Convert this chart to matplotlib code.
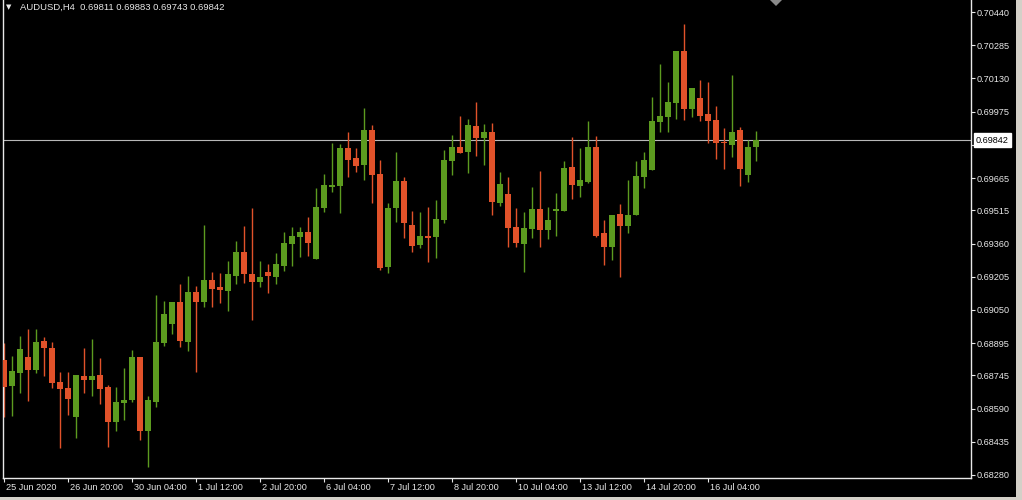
import matplotlib
matplotlib.use("Agg")
import matplotlib.pyplot as plt
import matplotlib.transforms as mtransforms
from matplotlib.patches import Rectangle, Polygon

symbol = "AUDUSD,H4"

# H4 candles
opens = [
    0.68817, 0.68695, 0.68756, 0.68831, 0.68770, 0.68905, 0.68873, 0.68714,
    0.68686, 0.68551, 0.68742, 0.68723, 0.68747, 0.68691, 0.68527, 0.68616,
    0.68630, 0.68831, 0.68485, 0.68621, 0.68896, 0.68985, 0.69087, 0.68901,
    0.69134, 0.69087, 0.69190, 0.69157, 0.69138, 0.69208, 0.69320, 0.69218,
    0.69180, 0.69227, 0.69204, 0.69255, 0.69358, 0.69390, 0.69414, 0.69288,
    0.69526, 0.69624, 0.69628, 0.69806, 0.69759, 0.69726, 0.69890, 0.69684,
    0.69250, 0.69526, 0.69652, 0.69446, 0.69353, 0.69395, 0.69390, 0.69470,
    0.69745, 0.69810, 0.69787, 0.69908, 0.69852, 0.69880, 0.69549, 0.69591,
    0.69437, 0.69358, 0.69428, 0.69521, 0.69423, 0.69512, 0.69512, 0.69717,
    0.69628, 0.69647, 0.69810, 0.69409, 0.69344, 0.69498, 0.69442, 0.69493,
    0.69670, 0.69703, 0.69927, 0.69950, 0.70016, 0.70258, 0.69988, 0.70039,
    0.69964, 0.69936, 0.69834, 0.69820, 0.69890, 0.69680, 0.69811,
]
highs = [
    0.68896, 0.68835, 0.68929, 0.68961, 0.68961, 0.68924, 0.68901, 0.68761,
    0.68761, 0.68747, 0.68873, 0.68915, 0.68826, 0.68700, 0.68691, 0.68779,
    0.68863, 0.68831, 0.68649, 0.69120, 0.69092, 0.69087, 0.69171, 0.69208,
    0.69162, 0.69446, 0.69227, 0.69222, 0.69278, 0.69372, 0.69442, 0.69526,
    0.69278, 0.69264, 0.69316, 0.69414, 0.69437, 0.69437, 0.69484, 0.69619,
    0.69684, 0.69829, 0.69824, 0.69880, 0.69806, 0.69992, 0.69913, 0.69750,
    0.69549, 0.69787, 0.69670, 0.69512, 0.69507, 0.69530, 0.69563, 0.69796,
    0.69866, 0.69955, 0.69941, 0.70020, 0.69918, 0.69922, 0.69694, 0.69670,
    0.69526, 0.69507, 0.69624, 0.69698, 0.69530, 0.69596, 0.69745, 0.69857,
    0.69806, 0.69932, 0.69862, 0.69470, 0.69493, 0.69544, 0.69656, 0.69745,
    0.69787, 0.70043, 0.70197, 0.70113, 0.70258, 0.70384, 0.70085, 0.70123,
    0.70113, 0.70002, 0.69899, 0.70146, 0.69904, 0.69843, 0.69883,
]
lows = [
    0.68551, 0.68555, 0.68663, 0.68625, 0.68756, 0.68742, 0.68686, 0.68406,
    0.68560, 0.68453, 0.68663, 0.68649, 0.68611, 0.68411, 0.68485, 0.68537,
    0.68621, 0.68443, 0.68317, 0.68597, 0.68882, 0.68938, 0.68878, 0.68858,
    0.68761, 0.69064, 0.69064, 0.69083, 0.69045, 0.69171, 0.69176, 0.69003,
    0.69157, 0.69129, 0.69171, 0.69232, 0.69255, 0.69297, 0.69302, 0.69288,
    0.69507, 0.69600, 0.69502, 0.69670, 0.69694, 0.69656, 0.69549, 0.69236,
    0.69222, 0.69460, 0.69386, 0.69320, 0.69339, 0.69274, 0.69292, 0.69456,
    0.69680, 0.69782, 0.69689, 0.69768, 0.69726, 0.69493, 0.69535, 0.69344,
    0.69344, 0.69227, 0.69386, 0.69344, 0.69381, 0.69395, 0.69512, 0.69568,
    0.69577, 0.69642, 0.69390, 0.69260, 0.69283, 0.69204, 0.69409, 0.69493,
    0.69619, 0.69703, 0.69880, 0.69880, 0.69941, 0.69936, 0.69950, 0.69932,
    0.69829, 0.69754, 0.69708, 0.69764, 0.69628, 0.69647, 0.69743,
]
closes = [
    0.68691, 0.68765, 0.68868, 0.68770, 0.68901, 0.68873, 0.68709, 0.68681,
    0.68635, 0.68747, 0.68723, 0.68742, 0.68681, 0.68527, 0.68621, 0.68630,
    0.68831, 0.68485, 0.68630, 0.68901, 0.69031, 0.69087, 0.68905, 0.69134,
    0.69087, 0.69190, 0.69148, 0.69143, 0.69218, 0.69320, 0.69218, 0.69180,
    0.69204, 0.69208, 0.69264, 0.69362, 0.69395, 0.69414, 0.69362, 0.69530,
    0.69633, 0.69633, 0.69806, 0.69750, 0.69722, 0.69890, 0.69680, 0.69246,
    0.69526, 0.69652, 0.69456, 0.69348, 0.69395, 0.69386, 0.69474, 0.69750,
    0.69810, 0.69782, 0.69913, 0.69852, 0.69880, 0.69554, 0.69638, 0.69432,
    0.69362, 0.69432, 0.69521, 0.69423, 0.69470, 0.69521, 0.69712, 0.69633,
    0.69656, 0.69810, 0.69395, 0.69344, 0.69493, 0.69442, 0.69493, 0.69675,
    0.69750, 0.69932, 0.69955, 0.70020, 0.70258, 0.69988, 0.70085, 0.69955,
    0.69932, 0.69829, 0.69829, 0.69880, 0.69708, 0.69810, 0.69842,
]

time_labels = [
    "25 Jun 2020", "26 Jun 20:00", "30 Jun 04:00", "1 Jul 12:00",
    "2 Jul 20:00", "6 Jul 04:00", "7 Jul 12:00", "8 Jul 20:00",
    "10 Jul 04:00", "13 Jul 12:00", "14 Jul 20:00", "16 Jul 04:00",
]
label_step = 8

price_ticks = [
    0.70440, 0.70285, 0.70130, 0.69975, 0.69820, 0.69665, 0.69515, 0.69360,
    0.69205, 0.69050, 0.68895, 0.68745, 0.68590, 0.68435, 0.68280,
]

BULL = "#5c9b1f"
BEAR = "#e1522a"
FG = "#e8e8e8"

plt.rcParams['font.family'] = ['Liberation Sans', 'DejaVu Sans']

W, H = 1022, 500
fig = plt.figure(figsize=(W / 100, H / 100), dpi=100, facecolor="black")
ax = fig.add_axes([3 / W, 22 / H, 968 / W, 478 / H])
ax.set_facecolor("black")

n = len(opens)
xs = list(range(n))
colors = [BULL if c >= o else BEAR for o, c in zip(opens, closes)]
bottoms = [min(o, c) for o, c in zip(opens, closes)]
heights = [max(abs(c - o), 0.00004) for o, c in zip(opens, closes)]

ax.vlines(xs, lows, highs, colors=colors, linewidth=1.0, zorder=2)
ax.bar(xs, heights, bottom=bottoms, width=0.64, color=colors, linewidth=0, zorder=3)

# bid line
ax.axhline(closes[-1], color="#b8b8b8", linewidth=0.8, zorder=1)

ax.set_xlim(-0.125, 120.875)
ax.set_ylim(0.68266, 0.70496)

for side in ["left", "bottom", "right"]:
    ax.spines[side].set_color(FG)
    ax.spines[side].set_linewidth(1.0)
ax.spines["top"].set_visible(False)

ax.yaxis.tick_right()
ax.set_yticks(price_ticks)
ax.set_yticklabels([f"{v:.5f}" for v in price_ticks])
ax.tick_params(axis="y", colors=FG, length=3, width=0.8, labelsize=6.6, pad=1.2)

ax.set_xticks(list(range(0, label_step * len(time_labels), label_step)))
ax.set_xticklabels(time_labels, ha="left")
ax.tick_params(axis="x", colors=FG, length=3, width=0.8, labelsize=6.6, pad=0.8)
shift = mtransforms.ScaledTranslation(1.5 / 72, 0, fig.dpi_scale_trans)
for lbl in ax.get_xticklabels():
    lbl.set_transform(lbl.get_transform() + shift)

# current price label on the price scale
trans = mtransforms.blended_transform_factory(ax.transAxes, ax.transData)
ax.text(1 + 5 / 968, closes[-1], f"{closes[-1]:.5f}", transform=trans,
        ha="left", va="center", fontsize=6.6, color="black", clip_on=False,
        zorder=10, bbox=dict(facecolor="white", edgecolor="white", pad=1.6))

# header
fig.text(6 / W, 1 - 7.5 / H, "\u25bc", fontsize=5, color=FG, va="center",
         family="DejaVu Sans")
fig.text(20 / W, 1 - 7.5 / H,
         f"{symbol}  {opens[-1]:.5f} {highs[-1]:.5f} {lows[-1]:.5f} {closes[-1]:.5f}",
         fontsize=6.8, color=FG, va="center")

# chart shift marker
fig.patches.append(Polygon([[770 / W, 1.0], [782 / W, 1.0], [776 / W, 1 - 6 / H]],
                           closed=True, transform=fig.transFigure,
                           facecolor="#8a8a8a", edgecolor="none"))

# window frame at right and bottom
fig.patches.append(Rectangle((1016 / W, 0), 6 / W, 1, transform=fig.transFigure,
                             facecolor="#d4d0c8", edgecolor="none"))
fig.patches.append(Rectangle((0, 0), 1, 3 / H, transform=fig.transFigure,
                             facecolor="#d4d0c8", edgecolor="none"))

fig.savefig("out.png", dpi=100, facecolor="black")
